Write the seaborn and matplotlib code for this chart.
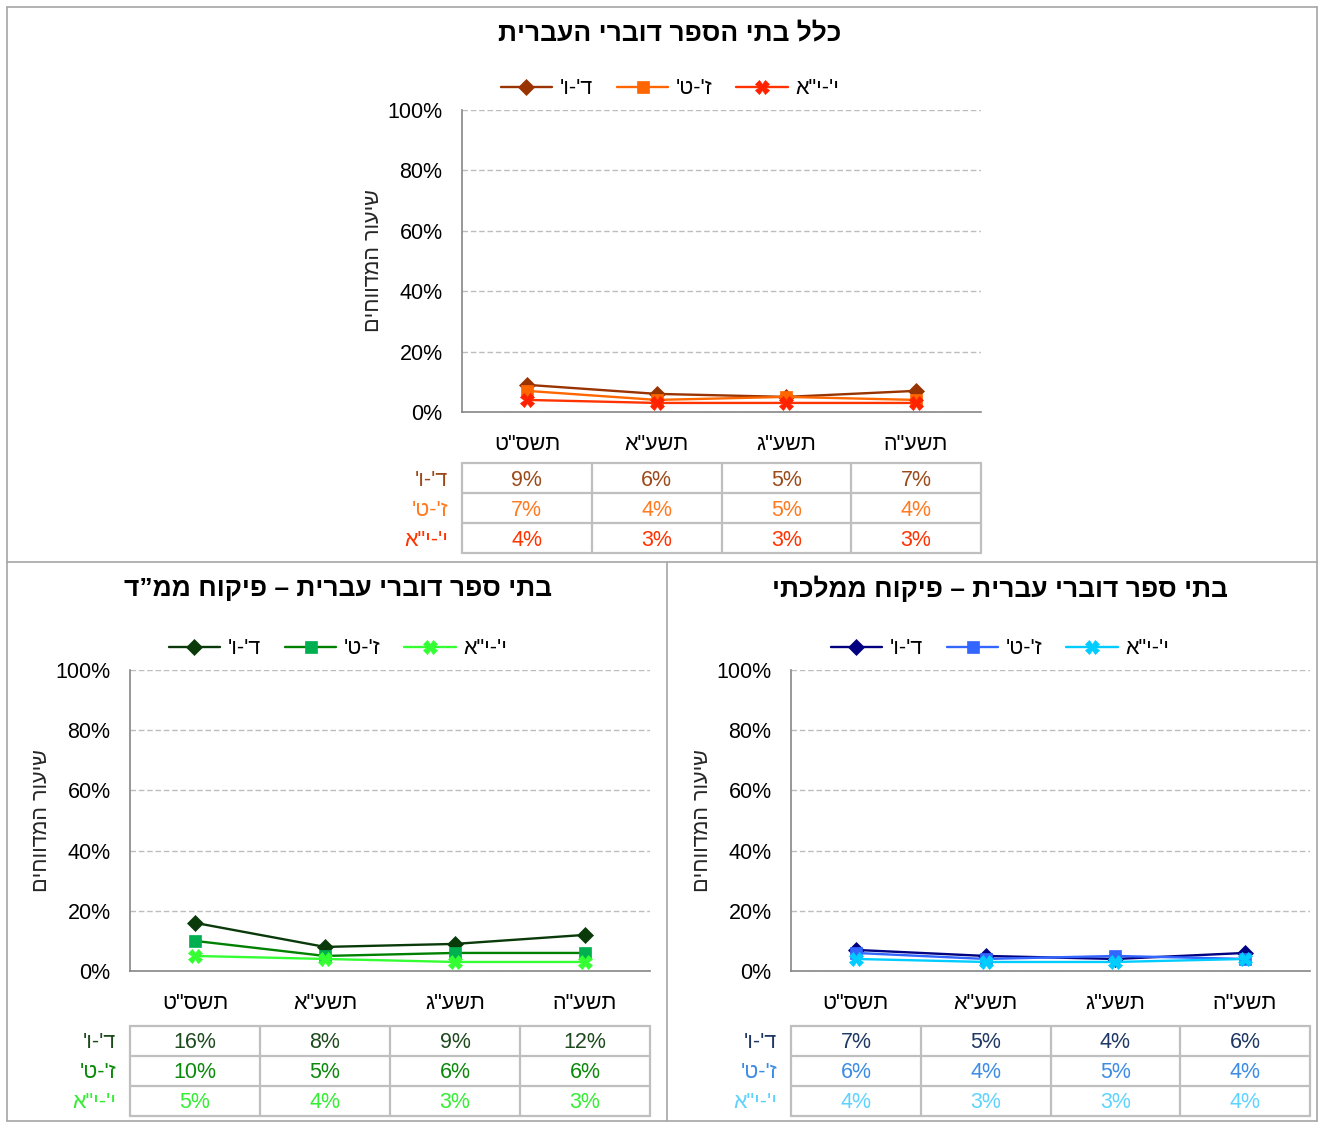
import matplotlib.pyplot as plt
from matplotlib.lines import Line2D
import numpy as np
import pandas as pd
import seaborn as sns

# --- data -------------------------------------------------------------
years = ['תשס"ט', 'תשע"א', 'תשע"ג', 'תשע"ה']
groups = ["ד'-ו'", "ז'-ט'", 'י\'-י"א']

all_d_v = [9, 6, 5, 7]
all_z_t = [7, 4, 5, 4]
all_y_ya = [4, 3, 3, 3]

mmd_d_v = [16, 8, 9, 12]
mmd_z_t = [10, 5, 6, 6]
mmd_y_ya = [5, 4, 3, 3]

mam_d_v = [7, 5, 4, 6]
mam_z_t = [6, 4, 5, 4]
mam_y_ya = [4, 3, 3, 4]

title_all = "כלל בתי הספר דוברי העברית"
title_mmd = "בתי ספר דוברי עברית – פיקוח ממ”ד"
title_mam = "בתי ספר דוברי עברית – פיקוח ממלכתי"
ylabel = "שיעור המדווחים"

sns.set_style("white")
plt.rcParams["font.family"] = ["Liberation Sans", "DejaVu Sans"]
plt.rcParams["text.color"] = "black"
plt.rcParams["xtick.color"] = "black"
plt.rcParams["ytick.color"] = "black"

FS = 15.5
W, H = 1318, 1122
fig = plt.figure(figsize=(W / 100, H / 100), dpi=100)


def rtl(s):
    # matplotlib draws left to right, so flip Hebrew for display
    return s[::-1]


def add_ax(left, right, top, bottom):
    return fig.add_axes([left / W, 1 - bottom / H, (right - left) / W, (bottom - top) / H])


def panel(ax, series, line_cols, mark_cols, text_cols, title, tx, ty, ly, px_w, px_h,
          head_off, tab_off):
    x = np.arange(len(years))
    markers = ["D", "s", "X"]
    msizes = [8.5, 8, 9.5]
    for vals, g, lc, mc, m, ms in zip(series, groups, line_cols, mark_cols, markers, msizes):
        df = pd.DataFrame({"x": x, "v": vals})
        sns.lineplot(data=df, x="x", y="v", ax=ax, color=lc, linewidth=1.7,
                     marker=m, markersize=ms, markerfacecolor=mc,
                     markeredgecolor=mc, markeredgewidth=0.5, label=rtl(g),
                     clip_on=False)

    ax.set_xlim(-0.5, len(years) - 0.5)
    ax.set_ylim(0, 100)
    ax.set_yticks(range(0, 101, 20))
    ax.set_yticklabels([f"{v}%" for v in range(0, 101, 20)], fontsize=FS)
    ax.yaxis.grid(True, color="#BDBDBD", linestyle=(0, (4, 2)), linewidth=1)
    ax.xaxis.grid(False)
    ax.set_xticks(np.arange(-0.5, len(years)), labels=[""] * (len(years) + 1))
    ax.set_xticks(x, labels=[rtl(y) for y in years], minor=True)
    ax.tick_params(axis="y", length=5, width=1, color="#868686", pad=9)
    ax.tick_params(axis="x", which="major", length=5, width=1, color="#868686")
    ax.tick_params(axis="x", which="minor", length=0, pad=16, labelsize=FS)
    for s in ["top", "right"]:
        ax.spines[s].set_visible(False)
    for s in ["left", "bottom"]:
        ax.spines[s].set_color("#868686")
        ax.spines[s].set_linewidth(1.2)
    ax.set_xlabel("")
    ax.set_ylabel(rtl(ylabel), fontsize=FS, rotation=90)
    ax.yaxis.set_label_coords(-78 / px_w, 0.5)

    # data table under the axis
    trans = ax.get_xaxis_transform()
    rows = [-(tab_off + 30 * i) / px_h for i in range(4)]
    for yy in rows:
        ax.plot([-0.5, len(years) - 0.5], [yy, yy], transform=trans, color="#BFBFBF",
                lw=1.6, clip_on=False)
    for xx in np.arange(-0.5, len(years)):
        ax.plot([xx, xx], [rows[0], rows[-1]], transform=trans, color="#BFBFBF",
                lw=1.6, clip_on=False)
    for i, (vals, g, tc) in enumerate(zip(series, groups, text_cols)):
        yc = (rows[i] + rows[i + 1]) / 2 - 2 / px_h
        ax.text(-0.5 - 14 / px_w * len(years), yc, rtl(g), transform=trans, ha="right",
                va="center", fontsize=FS, color=tc)
        for j, v in enumerate(vals):
            ax.text(j, yc, f"{v}%", transform=trans, ha="center", va="center",
                    fontsize=FS, color=tc)

    ax.legend(loc="center", bbox_to_anchor=(tx / W, 1 - ly / H), bbox_transform=fig.transFigure,
              ncol=3, frameon=False, fontsize=FS, handlelength=2.4, handletextpad=0.35,
              columnspacing=1.1)
    fig.text(tx / W, 1 - ty / H, rtl(title), ha="center", va="center", fontsize=19,
             fontweight="bold")


ax_top = add_ax(462, 981, 110, 412)
panel(ax_top, [all_d_v, all_z_t, all_y_ya],
      ["#993300", "#FF6600", "#FF3300"], ["#993300", "#FF6600", "#FF2200"],
      ["#9C4A1A", "#FF7A20", "#FF3300"], title_all, 670, 33, 89, 519, 302, 30, 51)

ax_bl = add_ax(130, 650, 670, 971)
panel(ax_bl, [mmd_d_v, mmd_z_t, mmd_y_ya],
      ["#0A3A0A", "#008000", "#33FF33"], ["#0A3A0A", "#00B050", "#33FF33"],
      ["#1E4A1E", "#0A8A0A", "#33EE33"], title_mmd, 338, 589, 649, 520, 301, 30, 55)

ax_br = add_ax(791, 1310, 670, 971)
panel(ax_br, [mam_d_v, mam_z_t, mam_y_ya],
      ["#000080", "#3366FF", "#00CCFF"], ["#000080", "#3366FF", "#00CCFF"],
      ["#1F3864", "#3C8CE6", "#5FD3FF"], title_mam, 1000, 589, 649, 519, 301, 30, 55)

# panel frames
frame = "#A6A6A6"
for xs, ys in [([7, 1317], [7, 7]), ([7, 7], [7, 1121]), ([1317, 1317], [7, 1121]),
               ([7, 1317], [1121, 1121]), ([7, 1317], [562, 562]), ([667, 667], [562, 1121])]:
    fig.add_artist(Line2D([x / W for x in xs], [1 - y / H for y in ys], color=frame, lw=1.2))

plt.savefig("out.png", dpi=100)
